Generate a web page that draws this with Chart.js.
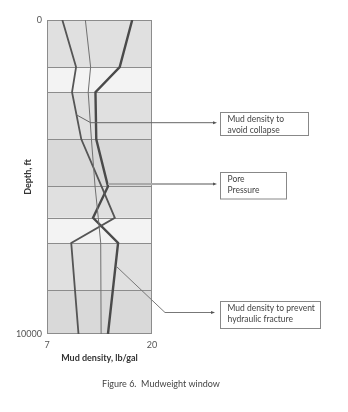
<!DOCTYPE html>
<html>
<head>
<meta charset="utf-8">
<script src="https://cdn.jsdelivr.net/npm/chart.js@4/dist/chart.umd.min.js"></script>
<style>
  html, body { margin: 0; padding: 0; background: #fff; }
</style>
</head>
<body>
<canvas id="mudChart" width="348" height="412"></canvas>
<script>
"use strict";

// depth (ft) where each curve has a vertex
const depths = [0, 1500, 2300, 3800, 5300, 6300, 7100, 10000];
// mud density (lb/gal)
const collapse = [8.9, 10.6, 10.1, 11.25, 13.75, 15.4, 10.0, 10.9];
const pore = [11.75, 12.4, 12.1, 12.5, 12.95, 13.35, 13.65, 13.7];
const fracture = [17.55, 16.0, 13.0, 13.1, 14.55, 12.7, 15.8, 14.55];

// shaded formation bands
const bandEdges = [0, 1500, 2300, 3800, 5300, 6300, 7100, 8600, 10000];
const bandShades = ["#e0e0e0", "#f3f3f3", "#e0e0e0", "#d9d9d9", "#e0e0e0", "#f3f3f3", "#e0e0e0", "#d9d9d9"];

const xTicks = [7, 20];
const yTicks = [0, 10000];

// callouts: text, and the point on the curve the leader starts from
const calloutText = [
  ["Mud density to", "avoid collapse"],
  ["Pore", "Pressure"],
  ["Mud density to prevent", "hydraulic fracture"],
];
const calloutDepth = [3020, 5220, 7850];
const calloutValue = [10.64, 14.55, 15.6];

Chart.defaults.font.family = "Lato";

const pts = (vals) => vals.map((v, i) => ({ x: v, y: depths[i] }));

// where the callout boxes sit (pixels)
const boxes = [
  { x: 220.5, y: 112.5, w: 88, h: 23, lead: [[90.7, 122.7], [215, 122.7]], color: "#666", lw: 1 },
  { x: 220.5, y: 172.5, w: 66, h: 26.5, lead: [[215, 184]], color: "#aaa", lw: 2 },
  { x: 220.5, y: 301.5, w: 100, h: 27, lead: [[165, 312.5], [213, 312.5]], color: "#777", lw: 1 },
];

const bandsPlugin = {
  id: "bands",
  beforeDatasetsDraw(chart) {
    const { ctx, chartArea: a, scales: { y } } = chart;
    ctx.save();
    for (let i = 0; i < bandShades.length; i++) {
      const t = y.getPixelForValue(bandEdges[i]);
      const b = y.getPixelForValue(bandEdges[i + 1]);
      ctx.fillStyle = bandShades[i];
      ctx.fillRect(a.left, t, a.right - a.left, b - t);
    }
    ctx.strokeStyle = "#8c8c8c";
    ctx.lineWidth = 1;
    for (let i = 1; i < bandEdges.length - 1; i++) {
      const yy = Math.round(y.getPixelForValue(bandEdges[i])) + 0.5;
      ctx.beginPath();
      ctx.moveTo(a.left, yy);
      ctx.lineTo(a.right, yy);
      ctx.stroke();
    }
    ctx.strokeRect(a.left + 0.5, a.top + 0.5, a.right - a.left - 1, a.bottom - a.top - 1);
    ctx.restore();
  },
  afterDatasetsDraw(chart) {
    const { ctx, scales: { x, y } } = chart;
    ctx.save();
    boxes.forEach((bx, i) => {
      // leader line
      ctx.strokeStyle = bx.color;
      ctx.lineWidth = bx.lw;
      ctx.beginPath();
      ctx.moveTo(x.getPixelForValue(calloutValue[i]), y.getPixelForValue(calloutDepth[i]));
      bx.lead.forEach(([px, py]) => ctx.lineTo(px, py));
      ctx.stroke();
      const [ex, ey] = bx.lead[bx.lead.length - 1];
      ctx.fillStyle = "#555";
      ctx.beginPath();
      ctx.moveTo(ex + 2, ey);
      ctx.lineTo(ex - 2, ey - 1.5);
      ctx.lineTo(ex - 2, ey + 1.5);
      ctx.fill();
      // box
      ctx.fillStyle = "#fff";
      ctx.fillRect(bx.x, bx.y, bx.w, bx.h);
      ctx.strokeStyle = "#888";
      ctx.lineWidth = 1;
      ctx.strokeRect(bx.x, bx.y, bx.w, bx.h);
      ctx.fillStyle = "#444";
      ctx.font = "8.5px Lato";
      ctx.textBaseline = "middle";
      ctx.textAlign = "left";
      calloutText[i].forEach((line, k) => {
        ctx.fillText(line, bx.x + 7, bx.y + 6.5 + k * 11);
      });
    });
    // figure caption
    ctx.fillStyle = "#444";
    ctx.font = "9px Lato";
    ctx.textAlign = "center";
    ctx.fillText("Figure 6.  Mudweight window", 161, 384);
    ctx.restore();
  },
};

const lineSet = (label, vals, color, width) => ({
  label,
  data: pts(vals),
  borderColor: color,
  borderWidth: width,
  pointRadius: 0,
  tension: 0,
  fill: false,
});

new Chart(document.getElementById("mudChart"), {
  type: "line",
  data: {
    datasets: [
      lineSet("Pore Pressure", pore, "#707070", 1),
      lineSet("Mud density to avoid collapse", collapse, "#555", 1.8),
      lineSet("Mud density to prevent hydraulic fracture", fracture, "#4a4a4a", 2.4),
    ],
  },
  options: {
    responsive: false,
    animation: false,
    indexAxis: "y",
    layout: { padding: { left: 0, top: 20, right: 196, bottom: 49 } },
    plugins: { legend: { display: false }, tooltip: { enabled: false } },
    scales: {
      x: {
        type: "linear",
        position: "bottom",
        min: 7,
        max: 20,
        afterBuildTicks: (s) => { s.ticks = xTicks.map((v) => ({ value: v })); },
        afterFit: (s) => { s.height = 29; },
        grid: { display: false, drawTicks: false },
        border: { display: false },
        ticks: { padding: 6, color: "#555", font: { size: 9 } },
        title: { display: true, text: "Mud density, lb/gal", color: "#333", font: { size: 9, weight: "bold" }, padding: 0 },
      },
      y: {
        type: "linear",
        position: "left",
        reverse: true,
        min: 0,
        max: 10000,
        afterBuildTicks: (s) => { s.ticks = yTicks.map((v) => ({ value: v })); },
        afterFit: (s) => { s.width = 47; },
        grid: { display: false, drawTicks: false },
        border: { display: false },
        ticks: { padding: 5, color: "#555", font: { size: 9 }, callback: (v) => String(v) },
        title: { display: true, text: "Depth, ft", color: "#333", font: { size: 9, weight: "bold" }, padding: { top: 23, bottom: 0 } },
      },
    },
  },
  plugins: [bandsPlugin],
});
</script>
</body>
</html>
